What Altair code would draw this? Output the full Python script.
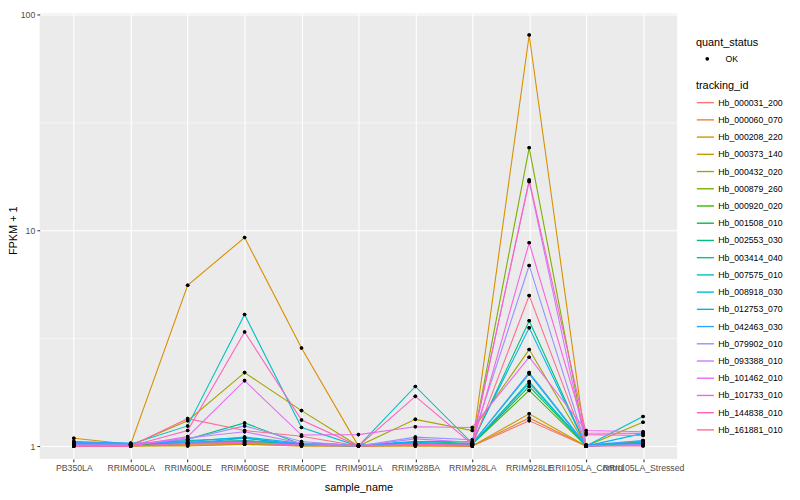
import altair as alt
import pandas as pd

samples = ["PB350LA", "RRIM600LA", "RRIM600LE", "RRIM600SE", "RRIM600PE", "RRIM901LA",
           "RRIM928BA", "RRIM928LA", "RRIM928LE", "RRII105LA_Control", "RRII105LA_Stressed"]

tracking_ids = ["Hb_000031_200", "Hb_000060_070", "Hb_000208_220", "Hb_000373_140", "Hb_000432_020",
                "Hb_000879_260", "Hb_000920_020", "Hb_001508_010", "Hb_002553_030", "Hb_003414_040",
                "Hb_007575_010", "Hb_008918_030", "Hb_012753_070", "Hb_042463_030", "Hb_079902_010",
                "Hb_093388_010", "Hb_101462_010", "Hb_101733_010", "Hb_144838_010", "Hb_161881_010"]

palette = ["#F8766D", "#EA8331", "#D89000", "#C09B00", "#A3A500", "#7CAE00", "#39B600", "#00BB4E",
           "#00BF7D", "#00C1A3", "#00BFC4", "#00BAE0", "#00B0F6", "#35A2FF", "#9590FF", "#C77CFF",
           "#E76BF3", "#FA62DB", "#FF62BC", "#FF6C91"]

# FPKM + 1 per sample (order of `samples`)
hb_000031_200 = [1.01, 1.00, 1.02, 1.03, 1.01, 1.00, 1.01, 1.00, 1.31, 1.00, 1.02]
hb_000060_070 = [1.00, 1.00, 1.01, 1.02, 1.00, 1.00, 1.00, 1.00, 1.35, 1.00, 1.05]
hb_000208_220 = [1.087, 1.02, 5.56, 9.26, 2.85, 1.00, 1.02, 1.00, 80.3, 1.00, 1.057]
hb_000373_140 = [1.00, 1.00, 1.00, 1.02, 1.00, 1.00, 1.00, 1.00, 1.41, 1.00, 1.03]
hb_000432_020 = [1.02, 1.01, 1.31, 2.19, 1.46, 1.00, 1.33, 1.18, 2.80, 1.00, 1.29]
hb_000879_260 = [1.01, 1.00, 1.03, 1.04, 1.02, 1.00, 1.02, 1.01, 24.1, 1.00, 1.04]
hb_000920_020 = [1.02, 1.01, 1.04, 1.06, 1.02, 1.00, 1.03, 1.02, 1.81, 1.00, 1.02]
hb_001508_010 = [1.03, 1.02, 1.03, 1.05, 1.03, 1.01, 1.02, 1.02, 1.89, 1.01, 1.01]
hb_002553_030 = [1.02, 1.01, 1.075, 1.28, 1.02, 1.00, 1.05, 1.03, 3.81, 1.00, 1.03]
hb_003414_040 = [1.03, 1.02, 1.06, 1.09, 1.01, 1.00, 1.03, 1.02, 1.99, 1.00, 1.02]
hb_007575_010 = [1.04, 1.02, 1.24, 4.07, 1.22, 1.00, 1.89, 1.03, 2.16, 1.00, 1.37]
hb_008918_030 = [1.04, 1.02, 1.05, 1.10, 1.03, 1.01, 1.04, 1.02, 1.95, 1.01, 1.04]
hb_012753_070 = [1.05, 1.03, 1.03, 1.087, 1.02, 1.01, 1.05, 1.05, 3.53, 1.00, 1.145]
hb_042463_030 = [1.04, 1.03, 1.04, 1.057, 1.03, 1.01, 1.025, 1.03, 2.19, 1.01, 1.06]
hb_079902_010 = [1.02, 1.02, 1.075, 1.24, 1.05, 1.00, 1.10, 1.07, 6.87, 1.00, 1.02]
hb_093388_010 = [1.01, 1.01, 1.09, 1.165, 1.03, 1.00, 1.08, 1.04, 16.8, 1.00, 1.01]
hb_101462_010 = [1.00, 1.00, 1.106, 2.01, 1.125, 1.13, 1.23, 1.22, 2.58, 1.18, 1.165]
hb_101733_010 = [1.00, 1.00, 1.03, 1.04, 1.01, 1.00, 1.02, 1.01, 8.75, 1.13, 1.12]
hb_144838_010 = [1.00, 1.00, 1.18, 3.38, 1.32, 1.00, 1.70, 1.02, 17.1, 1.15, 1.145]
hb_161881_010 = [1.00, 1.00, 1.34, 1.18, 1.11, 1.00, 1.01, 1.00, 4.98, 1.00, 1.00]

series = [hb_000031_200, hb_000060_070, hb_000208_220, hb_000373_140, hb_000432_020,
          hb_000879_260, hb_000920_020, hb_001508_010, hb_002553_030, hb_003414_040,
          hb_007575_010, hb_008918_030, hb_012753_070, hb_042463_030, hb_079902_010,
          hb_093388_010, hb_101462_010, hb_101733_010, hb_144838_010, hb_161881_010]

rows = []
for tid, vals in zip(tracking_ids, series):
    for i, (s, v) in enumerate(zip(samples, vals)):
        rows.append({"sample_name": s, "tracking_id": tid, "value": v, "idx": i, "quant_status": "OK"})
df = pd.DataFrame(rows)

FONT = "Liberation Sans"
major = "datum.value == 1 || datum.value == 10 || datum.value == 100"

x = alt.X(
    "sample_name:N", sort=samples,
    scale=alt.Scale(type="point", padding=0.6, domain=samples),
    axis=alt.Axis(title="sample_name", labelAngle=0, labelOverlap=False, labelLimit=300,
                  labelFontSize=8.8, labelColor="#4D4D4D", labelPadding=2.2,
                  tickSize=2.75, tickColor="#333333", tickWidth=1.07, domain=False,
                  grid=True, gridColor="white", gridWidth=1.07,
                  titleFontSize=11, titleColor="black", titleFontWeight="normal", titlePadding=9),
)
y = alt.Y(
    "value:Q",
    scale=alt.Scale(type="log", domain=[0.872, 101.1], nice=False),
    axis=alt.Axis(title="FPKM + 1", values=[1, 3.16228, 10, 31.6228, 100],
                  labelExpr=f"({major}) ? datum.label : ''",
                  labelFontSize=8.8, labelColor="#4D4D4D", labelPadding=2.2,
                  tickSize=2.75, tickColor="#333333", tickWidth=1.07,
                  tickOpacity={"condition": {"test": major, "value": 1}, "value": 0},
                  domain=False, grid=True, gridColor="white",
                  gridWidth={"condition": {"test": major, "value": 1.07}, "value": 0.53},
                  titleFontSize=11, titleColor="black", titleFontWeight="normal",
                  titleX=-23.5, titleY=219, titleBaseline="alphabetic", titleAngle=270),
)

base = alt.Chart(df).encode(x=x, y=y, order=alt.Order("idx:Q"))

lines = base.mark_line(strokeWidth=1.1).encode(
    color=alt.Color("tracking_id:N", scale=alt.Scale(domain=tracking_ids, range=palette),
                    legend=alt.Legend(title="tracking_id", orient="none", legendX=663, legendY=67,
                                      symbolType="stroke", symbolSize=298, symbolStrokeWidth=1.4,
                                      rowPadding=2.4, titlePadding=2.6, labelOffset=3.5, padding=0))
)

points = base.mark_point(filled=True, color="black", size=13, opacity=1).encode(
    shape=alt.Shape("quant_status:N", scale=alt.Scale(domain=["OK"], range=["circle"]),
                    legend=alt.Legend(title="quant_status", orient="none", legendX=663, legendY=24,
                                      symbolSize=14, symbolFillColor="black", symbolStrokeWidth=0,
                                      symbolOffset=7, rowPadding=0, titlePadding=6.4, labelOffset=14,
                                      padding=0))
)

chart = alt.layer(points, lines, points).properties(
    width=644, height=450, autosize="none",
    padding={"left": 32, "top": 3, "right": 116, "bottom": 39},
).configure(font=FONT).configure_view(fill="#EBEBEB", strokeWidth=0).configure_axis(
    labelFont=FONT, titleFont=FONT
).configure_legend(
    labelFont=FONT, titleFont=FONT, labelFontSize=8.8, titleFontSize=11,
    labelColor="black", titleColor="black", titleFontWeight="normal",
)

chart.save("out.html", embed_options={"renderer": "svg", "actions": False})
